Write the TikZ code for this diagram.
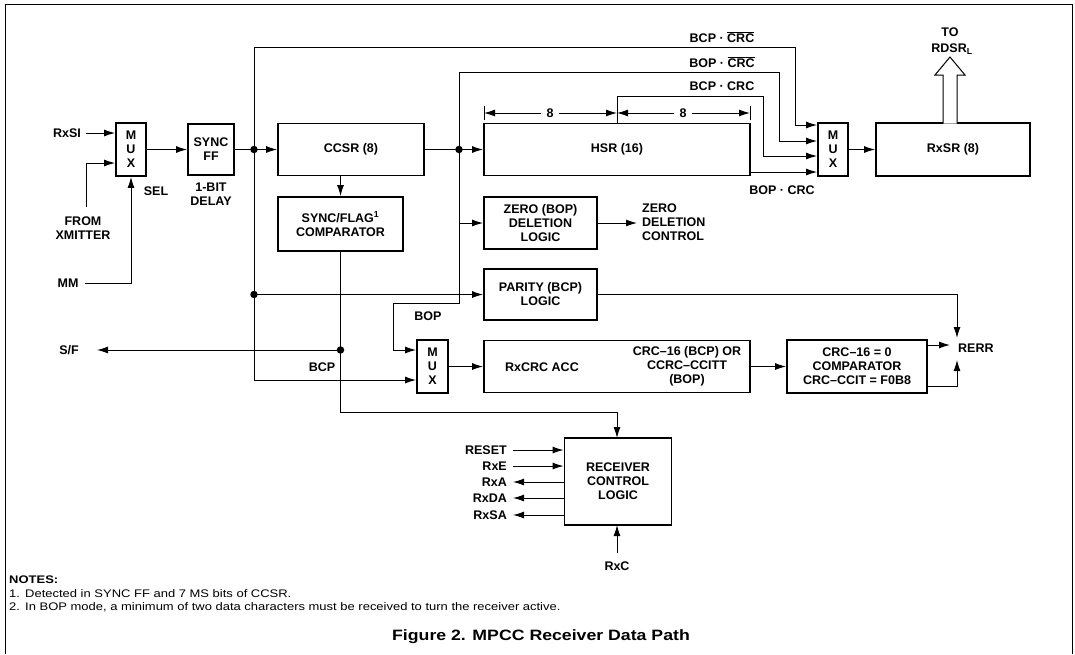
\documentclass[tikz,border=0pt]{standalone}
\usepackage{fontspec}
\setmainfont{Liberation Sans}
\usetikzlibrary{arrows.meta}
\newcommand{\ovl}[1]{\ensuremath{\overline{\hbox{#1}}}}
\begin{document}
\begin{tikzpicture}[x=1pt,y=-1pt,
  blk/.style={draw, line width=1.8pt, inner sep=0pt, font=\fontsize{12.5}{14}\selectfont\bfseries, align=center},
  lbl/.style={font=\fontsize{12.5}{14}\selectfont\bfseries, align=center, inner sep=0pt},
  wire/.style={line width=1pt},
  arr/.style={wire, -{Latex[length=11pt,width=7pt]}},
  jdot/.style={circle, fill, inner sep=0pt, minimum size=7.5pt},
  note/.style={font=\fontsize{11}{13}\selectfont, inner sep=0pt, anchor=west},
]
\useasboundingbox (0,0) rectangle (1075,654);
% frame
\draw[line width=1pt] (5,654) -- (5,4) -- (1072,4) -- (1072,654);

% blocks
\node[blk, minimum width=30pt, minimum height=53pt] (mux1) at (131,149.5) {M\\U\\X};
\node[blk, minimum width=46pt, minimum height=51pt] (syncff) at (211,149.5) {SYNC\\FF};
\node[blk, minimum width=146pt, minimum height=52pt] (ccsr) at (351,149.5) {CCSR (8)};
\node[blk, minimum width=125pt, minimum height=54pt] (sfc) at (340.5,224) {SYNC/FLAG\textsuperscript{1}\\COMPARATOR};
\node[blk, minimum width=266pt, minimum height=52pt] (hsr) at (617,149.5) {HSR (16)};
\node[blk, minimum width=113pt, minimum height=52pt] (zero) at (540.5,223) {ZERO (BOP)\\DELETION\\LOGIC};
\node[blk, minimum width=113pt, minimum height=51pt] (parity) at (540.5,294.5) {PARITY (BCP)\\LOGIC};
\node[blk, minimum width=31pt, minimum height=53pt] (mux2) at (432.5,366.5) {M\\U\\X};
\node[blk, minimum width=266pt, minimum height=52pt] (rxcrc) at (617,366.5) {};
\node[lbl] (rxcrcA) at (542,367) {RxCRC ACC};
\node[lbl] (rxcrcB) at (687,366) {CRC--16 (BCP) OR\\CCRC--CCITT\\(BOP)};
\node[blk, minimum width=140pt, minimum height=53pt] (crccmp) at (857,366.5) {CRC--16 = 0\\COMPARATOR\\CRC--CCIT = F0B8};
\node[blk, minimum width=30pt, minimum height=53pt] (mux3) at (833,149.5) {M\\U\\X};
\node[blk, minimum width=154pt, minimum height=53pt] (rxsr) at (953,149.5) {RxSR (8)};
\node[blk, minimum width=107pt, minimum height=87pt] (rcl) at (618,481.5) {RECEIVER\\CONTROL\\LOGIC};

% left inputs
\node[lbl] (rxsi) at (67,133) {RxSI};
\node[lbl] (xmit) at (83,228) {FROM\\XMITTER};
\node[lbl] (mm) at (68,283) {MM};
\node[lbl] (sel) at (156,191) {SEL};
\node[lbl] (delay) at (211,194) {1-BIT\\DELAY};
\coordinate (xm) at (86,207);
\draw[arr] (86,133) -- (mux1.west |- 0,133);
\draw[arr] (xm) -- (86,163) -- (mux1.west |- 0,163);
\draw[arr] (85,283) -- (mux1.south |- 0,283) -- (mux1.south);

% junctions
\coordinate (j1) at (254,149.5);
\coordinate (j2) at (459,149.5);
\coordinate (j3) at (254,294.5);
\coordinate (j4) at (340.5,350);
\coordinate (sfout) at (97,350);

\draw[arr] (mux1.east) -- (syncff.west);
\draw[wire] (syncff.east) -- (j1);
\draw[arr] (j1) -- (ccsr.west);
\draw[wire] (ccsr.east) -- (j2);
\draw[arr] (j2) -- (hsr.west);

% BCP bus (x=254)
\draw[arr] (j1) -- (254,47) -- (795,47) -- (795,125) -- (mux3.west |- 0,125);
\draw[arr] (j1) -- (254,380) -- (mux2.west |- 0,380);
\draw[arr] (j3) -- (parity.west);

% BOP bus (x=459)
\draw[arr] (j2) -- (459,72) -- (779,72) -- (779,141) -- (mux3.west |- 0,141);
\draw[wire] (j2) -- (459,303) -- (393,303);
\draw[arr] (393,303) -- (393,350) -- (mux2.west |- 0,350);
\draw[arr] (459,223) -- (zero.west);

% HSR outputs
\draw[arr] (hsr.north) -- (617,96) -- (763,96) -- (763,156) -- (mux3.west |- 0,156);
\draw[arr] (hsr.east |- 0,172) -- (mux3.west |- 0,172);
\draw[arr] (mux3.east) -- (rxsr.west);

% dimension marks
\draw[wire] (484,106) -- (484,120);
\draw[wire] (750,106) -- (750,120);
\draw[arr] (541,113) -- (484,113);
\draw[arr] (559,113) -- (617,113);
\draw[arr] (674,113) -- (617,113);
\draw[arr] (692,113) -- (750,113);
\node[lbl] (d1) at (550,113) {8};
\node[lbl] (d2) at (683,113) {8};

% mux3 labels
\node[lbl] (l1) at (722,37) {BCP · \ovl{CRC}};
\node[lbl] (l2) at (722,62) {BOP · \ovl{CRC}};
\node[lbl] (l3) at (722,86) {BCP · CRC};
\node[lbl] (l4) at (782,190) {BOP · CRC};

% hollow arrow to RDSR
\draw[line width=1pt, fill=white] (943,123.5) -- (943,75) -- (935,75) -- (950,57) -- (965,75) -- (957,75) -- (957,123.5);
\node[lbl] (to) at (950,32) {TO};
\node[lbl] (rdsr) at (952,49) {RDSR\textsubscript{L}};

% comparator
\draw[arr] (sfc.north |- ccsr.south) -- (sfc.north);
\draw[wire] (sfc.south) -- (j4);
\draw[arr] (j4) -- (340.5,412) -- (617,412) -- (617,438);
\draw[arr] (j4) -- (sfout);
\node[lbl] (sf) at (69,350) {S/F};
\node[lbl] (bcp) at (322,367) {BCP};
\node[lbl] (bop) at (428,316) {BOP};

% zero deletion
\draw[arr] (zero.east) -- (637,223);
\node[lbl, align=left, anchor=west] (zdc) at (642,222) {ZERO\\DELETION\\CONTROL};

% parity & CRC
\draw[arr] (parity.east) -- (957,294.5) -- (957,338);
\draw[arr] (mux2.east) -- (rxcrc.west);
\draw[arr] (rxcrc.east) -- (crccmp.west);
\draw[arr] (crccmp.east |- 0,345) -- (950,345);
\draw[arr] (crccmp.east |- 0,386) -- (957,386) -- (957,360);
\node[lbl, anchor=west] (rerr) at (958,348) {RERR};

% receiver control
\foreach \t/\y in {RESET/450, RxE/466} {
  \node[lbl, anchor=east] (in\t) at (507,\y) {\t};
  \draw[arr] (513,\y) -- (rcl.west |- 0,\y);
}
\foreach \t/\y in {RxA/482, RxDA/498, RxSA/515} {
  \node[lbl, anchor=east] (out\t) at (507,\y) {\t};
  \draw[arr] (rcl.west |- 0,\y) -- (513,\y);
}
\draw[arr] (617,553) -- (617,525);
\node[lbl] (rxc) at (617,566) {RxC};

% notes
\node[note, font=\fontsize{11}{13}\selectfont\bfseries] (notes) at (9,580) {\scalebox{1.18}[1]{NOTES:}};
\node[note] (n1a) at (9,594) {\scalebox{1.18}[1]{1.}};
\node[note] (n1) at (25,594) {\scalebox{1.18}[1]{Detected in SYNC FF and 7 MS bits of CCSR.}};
\node[note] (n2a) at (9,607) {\scalebox{1.18}[1]{2.}};
\node[note] (n2) at (25,607) {\scalebox{1.18}[1]{In BOP mode, a minimum of two data characters must be received to turn the receiver active.}};
\node[lbl, font=\fontsize{15}{17}\selectfont\bfseries] (cap) at (541,637) {\scalebox{1.18}[1]{Figure 2. MPCC Receiver Data Path}};

% junction dots
\foreach \c in {j1,j2,j3,j4} \node[jdot] at (\c) {};
\end{tikzpicture}
\end{document}
